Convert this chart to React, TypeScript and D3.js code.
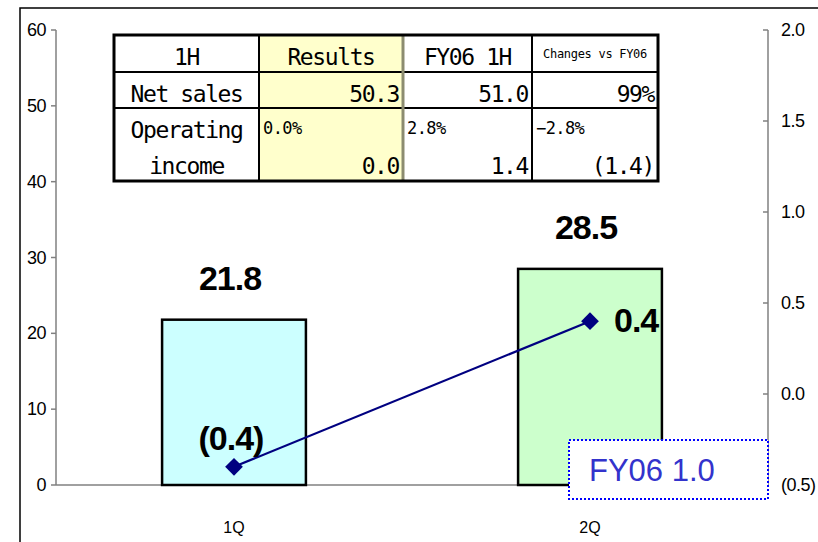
import { useEffect, useRef } from "react";
import * as d3 from "d3";

const categories = ["1Q", "2Q"];
const netSales = [21.8, 28.5];
const opIncome = [-0.4, 0.4];
const salesLabels = ["21.8", "28.5"];
const incomeLabels = ["(0.4)", "0.4"];
const incomePlacement = ["above", "right"];
const barColors = ["#CCFFFF", "#CCFFCC"];

const leftTicks = [0, 10, 20, 30, 40, 50, 60];
const rightTicks = [-0.5, 0, 0.5, 1.0, 1.5, 2.0];

const tableHeader = ["1H", "Results", "FY06 1H", "Changes vs FY06"];
const salesRow = ["Net sales", "50.3", "51.0", "99%"];
const marginRow = ["0.0%", "2.8%", "\u22122.8%"];
const incomeRow = ["0.0", "1.4", "(1.4)"];

const forecastNote = "FY06 1.0";

const fmtRight = (v: number) => (v < 0 ? `(${Math.abs(v).toFixed(1)})` : v.toFixed(1));

const App = () => {
  const ref = useRef<SVGSVGElement>(null);

  useEffect(() => {
    document.body.style.margin = "0";
    const width = 818;
    const height = 542;
    const plot = { left: 56, right: 768, top: 30, bottom: 485 };

    const svg = d3.select(ref.current).attr("width", width).attr("height", height);
    svg.selectAll("*").remove();

    const axisFont = "'Liberation Sans', Arial, sans-serif";
    const tableFont = "'DejaVu Sans Mono', monospace";

    // outer frame
    svg.append("path")
      .attr("d", `M20,${height} L20,8 L${width},8`)
      .attr("fill", "none")
      .attr("stroke", "#000")
      .attr("stroke-width", 1.5);

    const x = d3.scaleBand<string>()
      .domain(categories)
      .range([plot.left, plot.right])
      .paddingInner(0.596)
      .paddingOuter(0.298);

    const yL = d3.scaleLinear().domain([0, 60]).range([plot.bottom, plot.top]);
    const yR = d3.scaleLinear().domain([-0.5, 2.0]).range([plot.bottom, plot.top]);

    // left axis
    svg.append("line")
      .attr("x1", plot.left).attr("x2", plot.left)
      .attr("y1", plot.top).attr("y2", plot.bottom)
      .attr("stroke", "#808080").attr("stroke-width", 1.5);
    leftTicks.forEach((t) => {
      svg.append("line")
        .attr("x1", plot.left - 5).attr("x2", plot.left)
        .attr("y1", yL(t)).attr("y2", yL(t))
        .attr("stroke", "#808080").attr("stroke-width", 1.5);
      svg.append("text")
        .attr("x", 46).attr("y", yL(t) + 6)
        .attr("text-anchor", "end")
        .style("font-family", axisFont)
        .style("font-size", "18px")
        .style("letter-spacing", "-0.5px")
        .text(t);
    });

    // right axis
    svg.append("line")
      .attr("x1", plot.right).attr("x2", plot.right)
      .attr("y1", plot.top).attr("y2", plot.bottom)
      .attr("stroke", "#808080").attr("stroke-width", 1.5);
    rightTicks.forEach((t) => {
      svg.append("line")
        .attr("x1", plot.right - 5).attr("x2", plot.right)
        .attr("y1", yR(t)).attr("y2", yR(t))
        .attr("stroke", "#808080").attr("stroke-width", 1.5);
      svg.append("text")
        .attr("x", 781).attr("y", yR(t) + 6)
        .style("font-family", axisFont)
        .style("font-size", "18px")
        .style("letter-spacing", "-0.5px")
        .text(fmtRight(t));
    });

    // baseline
    svg.append("line")
      .attr("x1", plot.left).attr("x2", plot.right)
      .attr("y1", yL(0)).attr("y2", yL(0))
      .attr("stroke", "#808080").attr("stroke-width", 1.5);

    // category labels
    categories.forEach((c) => {
      svg.append("text")
        .attr("x", (x(c) as number) + x.bandwidth() / 2)
        .attr("y", 533)
        .attr("text-anchor", "middle")
        .style("font-family", axisFont)
        .style("font-size", "16px")
        .text(c);
    });

    // bars
    svg.selectAll("rect.bar")
      .data(netSales)
      .enter()
      .append("rect")
      .attr("class", "bar")
      .attr("x", (d, i) => x(categories[i]) as number)
      .attr("y", (d) => yL(d))
      .attr("width", x.bandwidth())
      .attr("height", (d) => yL(0) - yL(d))
      .attr("fill", (d, i) => barColors[i])
      .attr("stroke", "#000")
      .attr("stroke-width", 2.5);

    svg.selectAll("text.sales")
      .data(netSales)
      .enter()
      .append("text")
      .attr("class", "sales")
      .attr("x", (d, i) => (x(categories[i]) as number) + x.bandwidth() / 2 - 4)
      .attr("y", (d) => yL(d) - 30)
      .attr("text-anchor", "middle")
      .style("font-family", axisFont)
      .style("font-weight", "700")
      .style("font-size", "34px")
      .style("letter-spacing", "-1px")
      .text((d, i) => salesLabels[i]);

    // operating income line
    const cx = (i: number) => (x(categories[i]) as number) + x.bandwidth() / 2;
    const line = d3.line<number>()
      .x((d, i) => cx(i))
      .y((d) => yR(d));
    svg.append("path")
      .attr("d", line(opIncome) as string)
      .attr("fill", "none")
      .attr("stroke", "#000080")
      .attr("stroke-width", 2.2);

    const sym = d3.symbol().type(d3.symbolDiamond2).size(200);
    opIncome.forEach((d, i) => {
      svg.append("path")
        .attr("d", sym() as string)
        .attr("transform", `translate(${cx(i)},${yR(d)})`)
        .attr("fill", "#000080");
      const above = incomePlacement[i] === "above";
      svg.append("text")
        .attr("x", above ? cx(i) - 3 : cx(i) + 24)
        .attr("y", above ? yR(d) - 17 : yR(d) + 11)
        .attr("text-anchor", above ? "middle" : "start")
        .style("font-family", axisFont)
        .style("font-weight", "700")
        .style("font-size", "34px")
        .style("letter-spacing", "-1px")
        .text(incomeLabels[i]);
    });

    // summary table
    const colX = [114, 259, 403, 532, 658];
    const rowY = [35, 72, 108, 181];
    const tbl = svg.append("g");
    tbl.append("rect")
      .attr("x", colX[1]).attr("y", rowY[0])
      .attr("width", colX[2] - colX[1]).attr("height", rowY[3] - rowY[0])
      .attr("fill", "#FFFFCC");
    [rowY[1], rowY[2]].forEach((yy) => {
      tbl.append("line")
        .attr("x1", colX[0]).attr("x2", colX[4])
        .attr("y1", yy).attr("y2", yy)
        .attr("stroke", "#000").attr("stroke-width", 2);
    });
    [colX[1], colX[3]].forEach((xx) => {
      tbl.append("line")
        .attr("x1", xx).attr("x2", xx)
        .attr("y1", rowY[0]).attr("y2", rowY[3])
        .attr("stroke", "#000").attr("stroke-width", 2);
    });
    tbl.append("line")
      .attr("x1", colX[2]).attr("x2", colX[2])
      .attr("y1", rowY[0]).attr("y2", rowY[3])
      .attr("stroke", "#8C8C70").attr("stroke-width", 3);
    tbl.append("rect")
      .attr("x", colX[0]).attr("y", rowY[0])
      .attr("width", colX[4] - colX[0]).attr("height", rowY[3] - rowY[0])
      .attr("fill", "none")
      .attr("stroke", "#000").attr("stroke-width", 3);

    const cell = (s: string, xx: number, yy: number, anchor: string, size: number, ls = -1.4) =>
      tbl.append("text")
        .attr("x", xx).attr("y", yy)
        .attr("text-anchor", anchor)
        .style("font-family", tableFont)
        .style("font-size", `${size}px`)
        .style("letter-spacing", `${ls}px`)
        .text(s);

    tableHeader.forEach((h, i) => {
      const mid = (colX[i] + colX[i + 1]) / 2;
      if (i === 3) cell(h, mid, 58, "middle", 12, -0.3);
      else cell(h, mid, 65, "middle", 23);
    });
    cell(salesRow[0], (colX[0] + colX[1]) / 2, 102, "middle", 23);
    salesRow.slice(1).forEach((v, i) => cell(v, colX[i + 2] - 4, 102, "end", 23));
    cell("Operating", (colX[0] + colX[1]) / 2, 138, "middle", 23);
    cell("income", (colX[0] + colX[1]) / 2, 174, "middle", 23);
    marginRow.forEach((v, i) => cell(v, colX[i + 1] + 4, 134, "start", 17, -0.6));
    incomeRow.forEach((v, i) => cell(v, colX[i + 2] - 4, 174, "end", 23));

    // forecast note box
    const note = svg.append("g");
    note.append("rect")
      .attr("x", 569).attr("y", 440)
      .attr("width", 199).attr("height", 59)
      .attr("fill", "#fff")
      .attr("stroke", "#0000FF")
      .attr("stroke-width", 2)
      .attr("stroke-dasharray", "2,2");
    note.append("text")
      .attr("x", 589).attr("y", 481)
      .style("font-family", axisFont)
      .style("font-size", "31px")
      .style("fill", "#3333CC")
      .text(forecastNote);
  }, []);

  return <svg ref={ref} style={{ display: "block" }}></svg>;
};

export default App;
